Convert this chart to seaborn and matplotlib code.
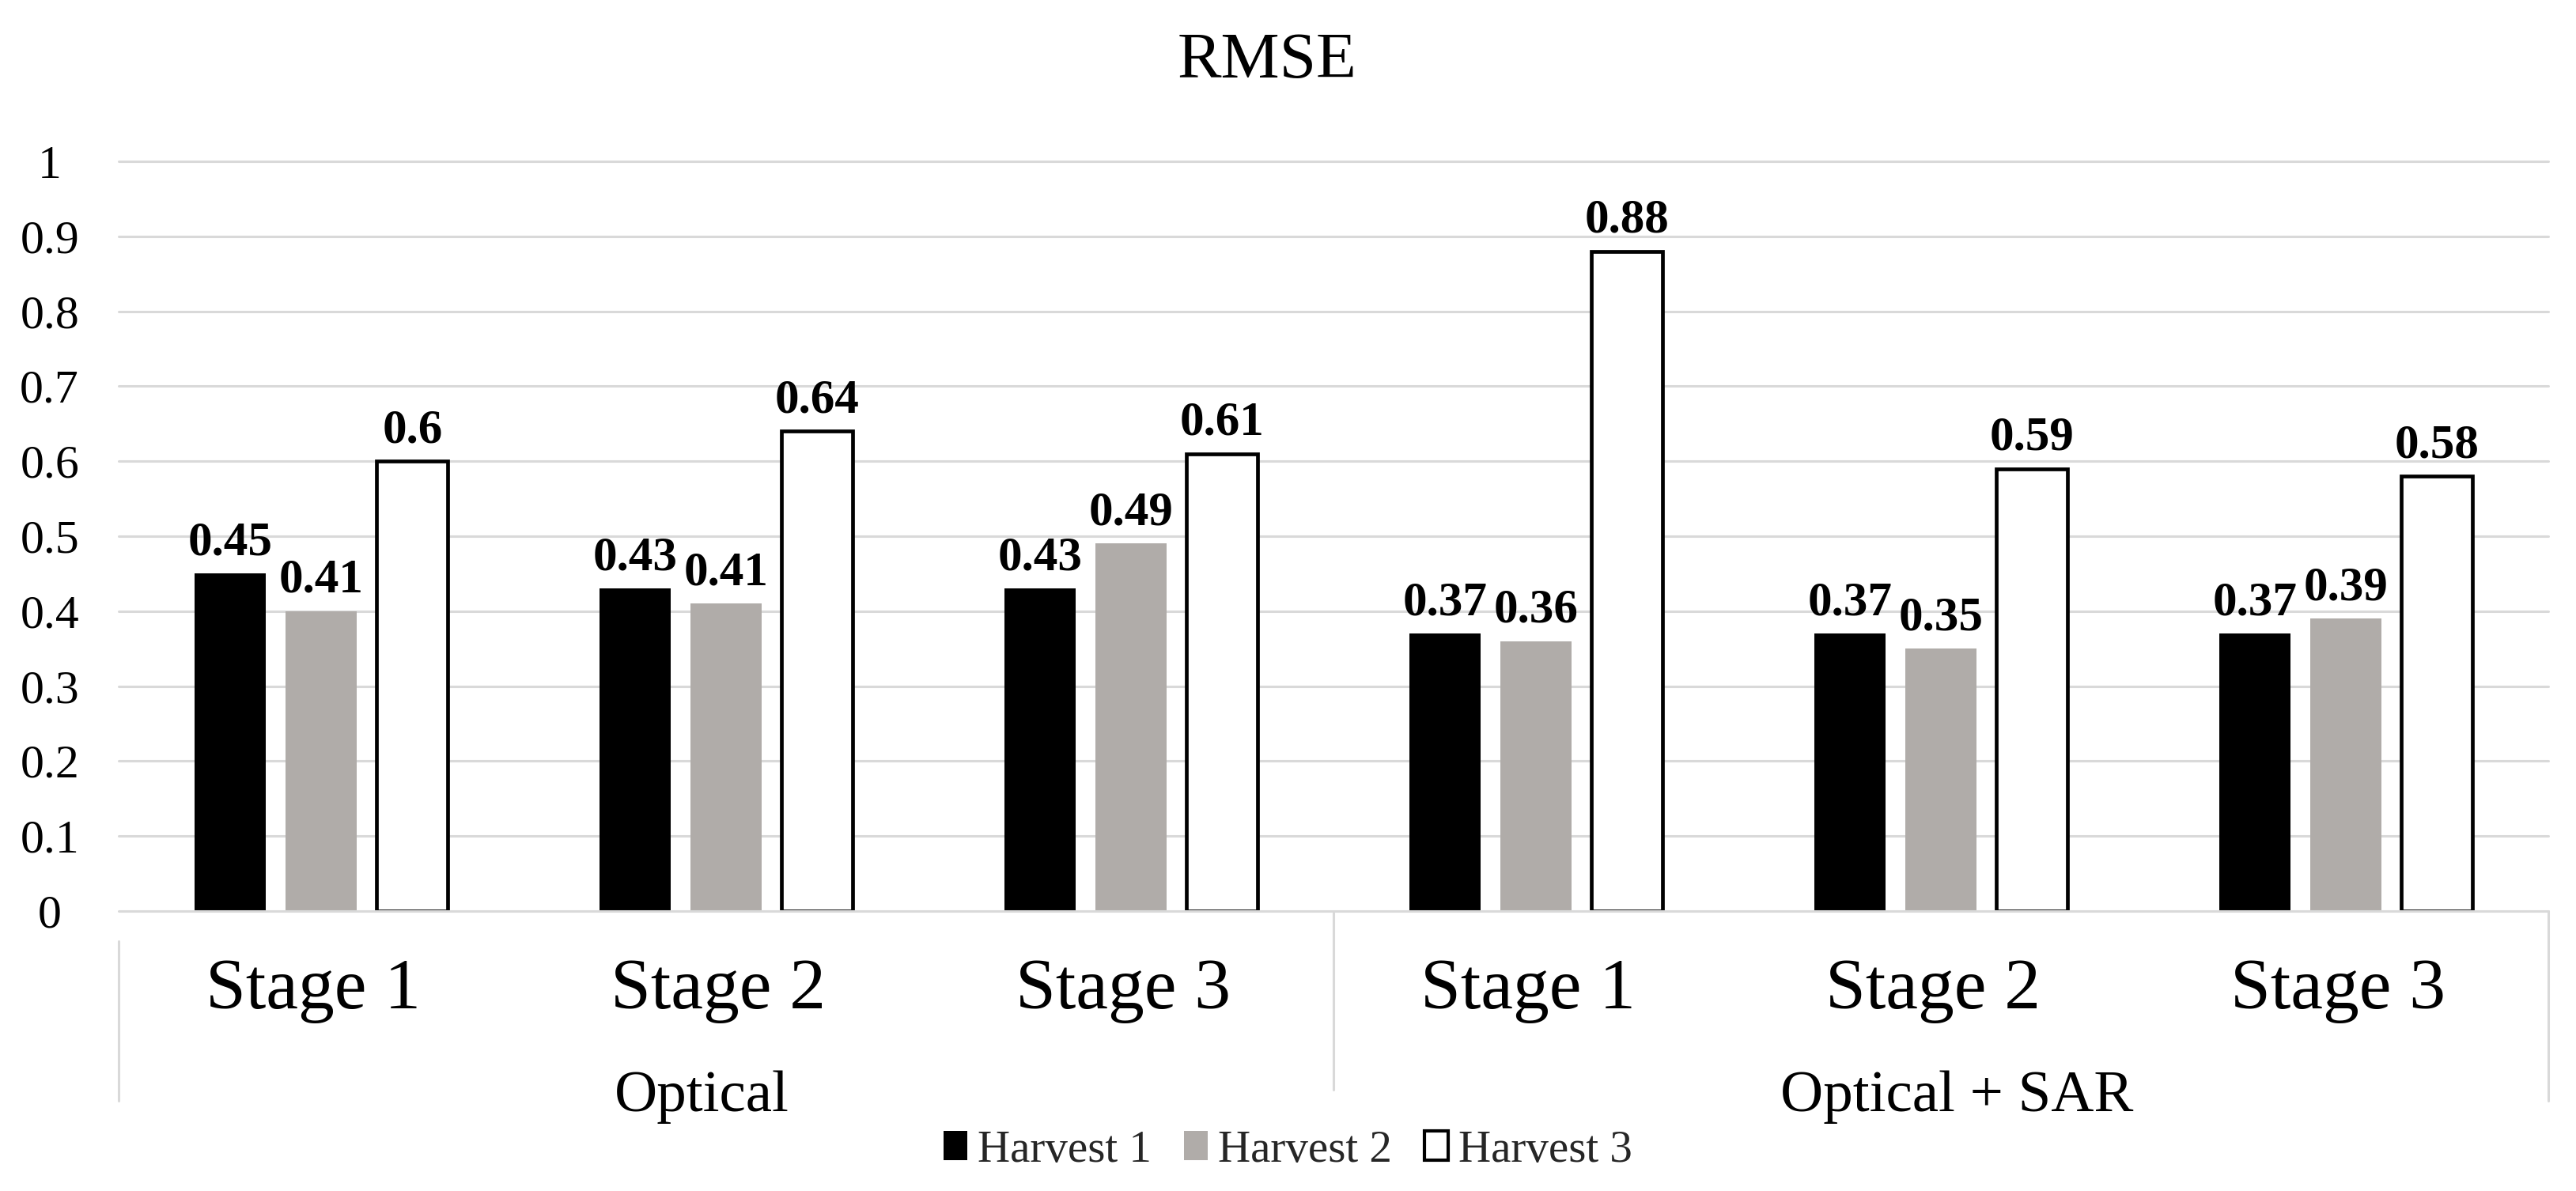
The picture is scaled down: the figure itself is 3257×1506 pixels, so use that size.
import numpy as np
import pandas as pd
import matplotlib
matplotlib.use("Agg")
import matplotlib.pyplot as plt
import seaborn as sns
from matplotlib.patches import Patch

# chart data
sources = ["Optical", "Optical + SAR"]
stages = ["Stage 1", "Stage 2", "Stage 3"]
harvests = ["Harvest 1", "Harvest 2", "Harvest 3"]

harvest1 = [0.45, 0.43, 0.43, 0.37, 0.37, 0.37]
harvest2 = [0.40, 0.41, 0.49, 0.36, 0.35, 0.39]
harvest3 = [0.60, 0.64, 0.61, 0.88, 0.59, 0.58]

harvest1_labels = ["0.45", "0.43", "0.43", "0.37", "0.37", "0.37"]
harvest2_labels = ["0.41", "0.41", "0.49", "0.36", "0.35", "0.39"]
harvest3_labels = ["0.6", "0.64", "0.61", "0.88", "0.59", "0.58"]

yticks = [0, 0.1, 0.2, 0.3, 0.4, 0.5, 0.6, 0.7, 0.8, 0.9, 1]
ytick_labels = ["0", "0.1", "0.2", "0.3", "0.4", "0.5", "0.6", "0.7", "0.8", "0.9", "1"]

colors = ["#000000", "#B0ACA9", "#FFFFFF"]
grid_color = "#D9D9D9"

# long table for seaborn
groups = [f"{src}|{stg}" for src in sources for stg in stages]
rows = []
for h, vals in zip(harvests, [harvest1, harvest2, harvest3]):
    for g, v in zip(groups, vals):
        rows.append({"group": g, "harvest": h, "rmse": v})
df = pd.DataFrame(rows)

sns.set_theme(style="white")
plt.rcParams["font.family"] = ["Liberation Serif", "DejaVu Serif"]

fig = plt.figure(figsize=(32.57, 15.06), dpi=100)
ax = fig.add_axes([0.0461, 0.2351, 0.9432, 0.6294])

sns.barplot(data=df, x="group", y="rmse", hue="harvest", order=groups,
            hue_order=harvests, palette=colors, width=0.675, gap=0.22,
            saturation=1, legend=False, ax=ax, zorder=3)

# edges: only the white bars get a black outline
for i, cont in enumerate(ax.containers):
    for bar in cont:
        if i == 2:
            bar.set_edgecolor("black")
            bar.set_linewidth(3.4)
        else:
            bar.set_linewidth(0)

# value labels
for cont, labs in zip(ax.containers, [harvest1_labels, harvest2_labels, harvest3_labels]):
    ax.bar_label(cont, labels=labs, padding=8, fontsize=44, fontweight="bold",
                 color="black")

ax.set_xlim(-0.5, len(groups) - 0.5)
ax.set_ylim(0, 1.0)
ax.set_yticks(yticks)
ax.set_yticklabels(ytick_labels, fontsize=43, ha="center")
ax.tick_params(axis="y", length=0, pad=63, colors="black")
ax.set_xticks([])
ax.set_xlabel("")
ax.set_ylabel("")
for sp in ax.spines.values():
    sp.set_visible(False)

# horizontal grid lines
for y in yticks[1:]:
    ax.axhline(y, color=grid_color, lw=2.2, zorder=1, clip_on=False)
ax.axhline(0, color=grid_color, lw=2.2, zorder=4, clip_on=False)

# two-level category axis
trans = matplotlib.transforms.blended_transform_factory(ax.transData, ax.transAxes)
for i, g in enumerate(groups):
    ax.text(i - 0.02, -0.130, g.split("|")[1], transform=trans, ha="center",
            va="baseline", fontsize=66, color="black")
for x, src in zip([0.94, 4.04], sources):
    ax.text(x, -0.267, src, transform=trans, ha="center", va="baseline",
            fontsize=54, color="black")
ax.plot([-0.5, -0.5], [-0.04, -0.253], transform=trans, color=grid_color,
        lw=2.2, clip_on=False)
ax.plot([2.5, 2.5], [0, -0.238], transform=trans, color=grid_color,
        lw=2.2, clip_on=False)
ax.plot([5.5, 5.5], [0, -0.253], transform=trans, color=grid_color,
        lw=2.2, clip_on=False)

# title
fig.text(0.492, 0.948, "RMSE", ha="center", va="center", fontsize=60, color="black")

# legend
handles = [Patch(facecolor=colors[0], edgecolor=colors[0], lw=0),
           Patch(facecolor=colors[1], edgecolor=colors[1], lw=0),
           Patch(facecolor=colors[2], edgecolor="black", lw=3)]
fig.legend(handles, harvests, loc="center", bbox_to_anchor=(0.5, 0.034),
           ncol=3, frameon=False, fontsize=41, handlelength=0.53,
           handleheight=0.61, handletextpad=0.23, columnspacing=0.72,
           borderpad=0, borderaxespad=0)

fig.savefig("out.png", dpi=100, facecolor="white")
